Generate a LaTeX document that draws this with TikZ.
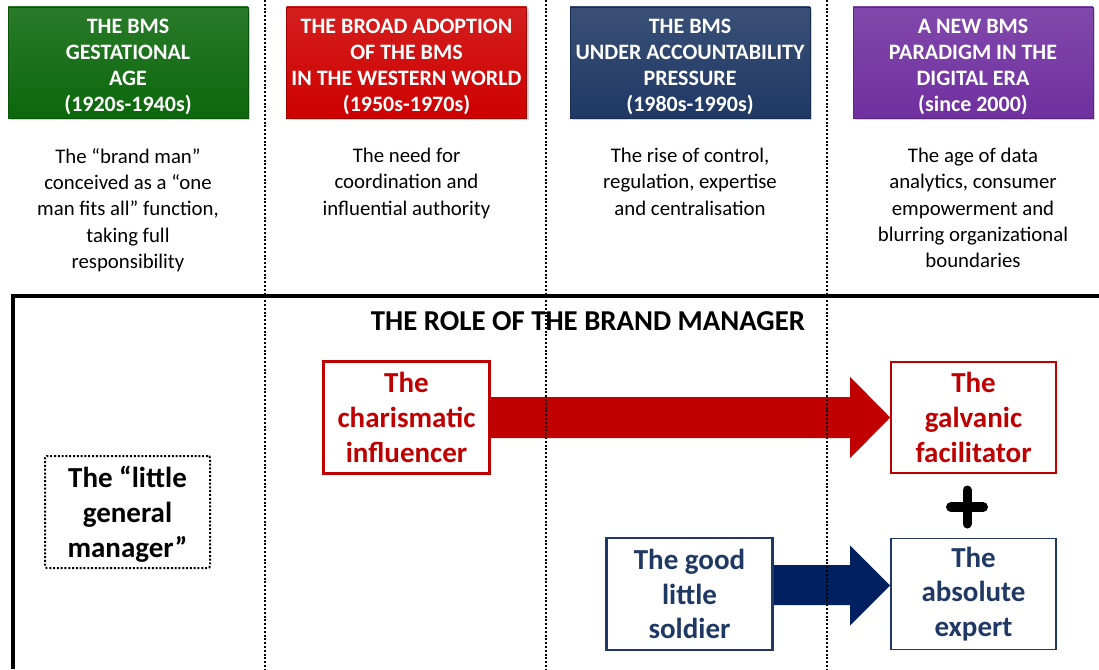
\documentclass[tikz,border=0pt]{standalone}
\usepackage{fontspec}
\setmainfont{Carlito}
\usetikzlibrary{calc,shadows}
\definecolor{hgreen}{RGB}{12,104,12}
\definecolor{hred}{RGB}{206,0,0}
\definecolor{hnavy}{RGB}{31,56,100}
\definecolor{hpurple}{RGB}{112,48,160}
\definecolor{rred}{RGB}{192,0,0}
\definecolor{rnavy}{RGB}{31,56,100}
\definecolor{anavy}{RGB}{0,32,96}
\tikzset{
  header/.style={minimum width=240pt, minimum height=111pt, inner sep=0pt,
    top color=#1!88!white, bottom color=#1, draw=#1!80!black, line width=0.4pt,
    drop shadow={shadow xshift=2pt, shadow yshift=-2pt, opacity=0.35}},
  htext/.style={text=white, font=\fontsize{22}{26.3}\selectfont\bfseries, align=center, inner sep=0pt},
  desc/.style={font=\fontsize{20.8}{26.3}\selectfont, align=center, anchor=north, inner sep=0pt},
  rolebox/.style={draw=#1, text=#1, line width=1.6pt, fill=white, align=center,
    minimum width=165pt, minimum height=111pt, inner sep=0pt,
    font=\fontsize{29}{34.8}\selectfont\bfseries},
  dotbox/.style={draw=black, line width=2pt, dash pattern=on 2pt off 1.8pt, rounded corners=2pt,
    align=center, minimum width=165pt, minimum height=112pt, inner sep=0pt,
    font=\fontsize{29}{34.8}\selectfont\bfseries},
  sep/.style={black, line width=2pt, dash pattern=on 2pt off 1.8pt},
  frame/.style={black, line width=3.5pt},
}
\begin{document}
\begin{tikzpicture}[x=1pt,y=-1pt]
\useasboundingbox (0,0) rectangle (1099,669);

% header boxes
\node[header=hgreen]  (h1) at (128,62.5)   {};
\node[header=hred]    (h2) at (406.5,62.5) {};
\node[header=hnavy]   (h3) at (690,62.5)   {};
\node[header=hpurple] (h4) at (973,62.5)   {};
\node[htext] (t1) at ($(h1.center)+(0,4.5)$) {THE BMS\\GESTATIONAL\\AGE\\(1920s-1940s)};
\node[htext] (t2) at ($(h2.center)+(0,4.5)$) {THE BROAD ADOPTION\\OF THE BMS\\IN THE WESTERN WORLD\\(1950s-1970s)};
\node[htext] (t3) at ($(h3.center)+(0,4.5)$) {THE BMS\\UNDER ACCOUNTABILITY\\PRESSURE\\(1980s-1990s)};
\node[htext] (t4) at ($(h4.center)+(0,4.5)$) {A NEW BMS\\PARADIGM IN THE\\DIGITAL ERA\\(since 2000)};

% descriptions
\node[desc] (d1) at (128,148)   {The “brand man”\\conceived as a “one\\man fits all” function,\\taking full\\responsibility};
\node[desc] (d2) at (406.5,148) {The need for\\coordination and\\influential authority};
\node[desc] (d3) at (690,148)   {The rise of control,\\regulation, expertise\\and centralisation};
\node[desc] (d4) at (973,148)   {The age of data\\analytics, consumer\\empowerment and\\blurring organizational\\boundaries};

% frame
\coordinate (fr) at (1099,296);
\coordinate (fc) at (13,296);
\coordinate (fb) at (13,669);
\draw[frame] (fr) -- (fc) -- (fb);

\node[font=\fontsize{28.8}{32}\selectfont\bfseries, inner sep=0pt] (title) at (588,321) {THE ROLE OF THE BRAND MANAGER};

% role boxes
\node[dotbox] (lgm) at (127.5,512) {};
\node[font=\fontsize{29}{34.8}\selectfont\bfseries, align=center, inner sep=0pt] (lgmt) at ($(lgm.center)+(0,2.5)$) {The “little\\general\\manager”};
\node[rolebox=rred]  (cha) at (406.5,417.5) {The\\charismatic\\influencer};
\node[rolebox=rred]  (gal) at (973.5,417.5) {The\\galvanic\\facilitator};
\node[rolebox=rnavy] (sol) at (689.5,594)   {The good\\little\\soldier};
\node[rolebox=rnavy] (abs) at (973.5,594)   {The\\absolute\\expert};

% red arrow
\fill[rred] ($(cha.east)+(0,-20.5)$) -- ($(gal.west)+(-40,-20.5)$) -- ($(gal.west)+(-40,-40.5)$)
  -- (gal.west) -- ($(gal.west)+(-40,40.5)$) -- ($(gal.west)+(-40,20.5)$) -- ($(cha.east)+(0,20.5)$) -- cycle;
% navy arrow
\fill[anavy] ($(sol.east)+(0,-29)$) -- ($(abs.west)+(-40,-29)$) -- ($(abs.west)+(-40,-48.5)$)
  -- ($(abs.west)+(0,-8.5)$) -- ($(abs.west)+(-40,31.5)$) -- ($(abs.west)+(-40,11)$) -- ($(sol.east)+(0,11)$) -- cycle;
\draw[rred, line width=1.6pt] (cha.north west) rectangle (cha.south east);
\draw[rnavy, line width=1.6pt] (sol.north west) rectangle (sol.south east);

% plus sign
\coordinate (plus) at (967,507);
\draw[line width=10pt, line cap=round] ($(plus)+(-16,0)$) -- ($(plus)+(16,0)$);
\draw[line width=9pt, line cap=round] ($(plus)+(0,-17)$) -- ($(plus)+(0,17)$);

% dotted separators
\coordinate (s1t) at (265,0); \coordinate (s1b) at (265,669);
\coordinate (s2t) at (546,0); \coordinate (s2b) at (546,669);
\coordinate (s3t) at (827,0); \coordinate (s3b) at (827,669);
\draw[sep] (s1t) -- (s1b);
\draw[sep] (s2t) -- (s2b);
\draw[sep] (s3t) -- (s3b);
\end{tikzpicture}
\end{document}
